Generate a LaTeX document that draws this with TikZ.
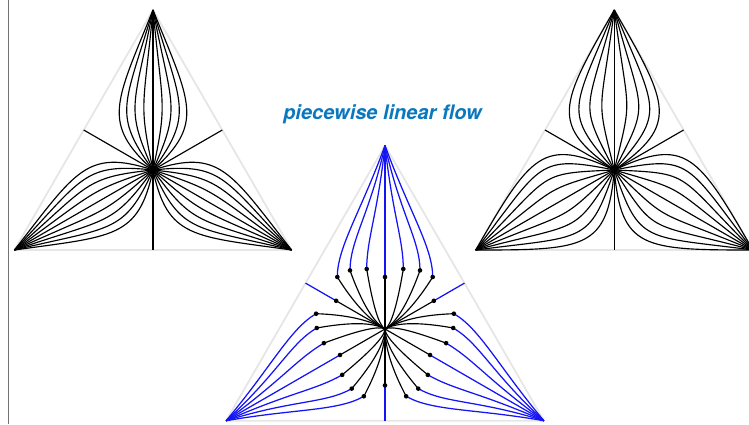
\documentclass[tikz,border=0pt]{standalone}
\usepackage{fontspec}
\newfontfamily\heros{TeX Gyre Heros}
\definecolor{titleblue}{RGB}{10,120,190}
\definecolor{edgegrey}{RGB}{230,230,230}
\definecolor{flowblue}{RGB}{20,20,245}
\begin{document}
\begin{tikzpicture}[x=1pt,y=1pt,
  tri/.style={draw=edgegrey, line width=1.8pt, line join=round},
  flow/.style={black, line width=1.15pt},
  bflow/.style={flowblue, line width=1.25pt},
  sdot/.style={fill=black}]
\useasboundingbox (0,0) rectangle (749,424);
\draw[black!55, line width=0.9pt] (8,0) -- (8,424);

% ---------- left triangle (smooth flow) ----------
\coordinate (CL) at (153,254);
\begin{scope}[shift={(CL)}]
  \draw[tri] (90:160) -- (210:160) -- (330:160) -- cycle;
  \foreach \r in {0,120,240}{
    \begin{scope}[rotate=\r]
      \draw[flow] (0,0) -- (0,-80);
      \foreach \k in {-4,...,4}{
        \pgfmathsetmacro\s{\k/4}
        \draw[flow] (0,160) .. controls +({270+22*\s}:100) and +({90-48*\s}:70) .. (0,0);
      }
    \end{scope}
  }
\end{scope}

% ---------- right triangle (smooth flow) ----------
\coordinate (CR) at (614.3,254);
\begin{scope}[shift={(CR)}]
  \draw[tri] (90:160) -- (210:160) -- (330:160) -- cycle;
  \foreach \r in {0,120,240}{
    \begin{scope}[rotate=\r]
      \draw[flow] (0,0) -- (0,-80);
      \foreach \k in {-4,...,4}{
        \pgfmathsetmacro\s{\k/4}
        \draw[flow] (0,160) .. controls +({270+30*\s}:110) and +({90-55*\s}:79) .. (0,0);
      }
    \end{scope}
  }
\end{scope}

% ---------- middle triangle (piecewise linear flow) ----------
\node[font=\heros\bfseries\itshape\fontsize{20}{24}\selectfont, text=titleblue] (title) at (382.5,310) {piecewise linear flow};
\coordinate (CM) at (385,95);
\begin{scope}[shift={(CM)}]
  \draw[tri] (90:183.5) -- (210:183.5) -- (330:183.5) -- cycle;
  % blue outer parts
  \foreach \r in {0,120,240}{
    \begin{scope}[rotate=\r]
      \draw[bflow] (0,-56.4) -- (0,-91.75);
      \draw[bflow] (0,52) -- (0,183.5);
      \foreach \dx/\dy/\ph in {18.3/60/6.2, 35/58.6/12.5, 47.7/52/20}{
        \foreach \sg in {-1,1}{
          \draw[bflow] ({\sg*\dx},\dy) .. controls +(0,30) and +({270+\sg*\ph}:70) .. (0,183.5);
        }
      }
    \end{scope}
  }
  % black inner parts
  \foreach \r in {0,120,240}{
    \begin{scope}[rotate=\r]
      \draw[flow] (0,0) -- (0,-56.4);
      \draw[flow] (0,0) -- (0,52);
      \foreach \dx/\dy in {18.3/60, 35/58.6, 47.7/52}{
        \foreach \sg in {-1,1}{
          \draw[flow] (0,0) .. controls ({\sg*\dx/3},{\dx*0.19245}) and ({2*\sg*\dx/3},{\dy/3+\dx*0.19245}) .. ({\sg*\dx},\dy);
        }
      }
    \end{scope}
  }
  % switching points
  \foreach \r in {0,120,240}{
    \begin{scope}[rotate=\r]
      \fill[sdot] (0,-56.4) circle (2.3);
      \fill[sdot] (0,52) circle (2.3);
      \foreach \dx/\dy in {18.3/60, 35/58.6, 47.7/52}{
        \foreach \sg in {-1,1}{
          \fill[sdot] ({\sg*\dx},\dy) circle (2.3);
        }
      }
    \end{scope}
  }
\end{scope}
\end{tikzpicture}
\end{document}
